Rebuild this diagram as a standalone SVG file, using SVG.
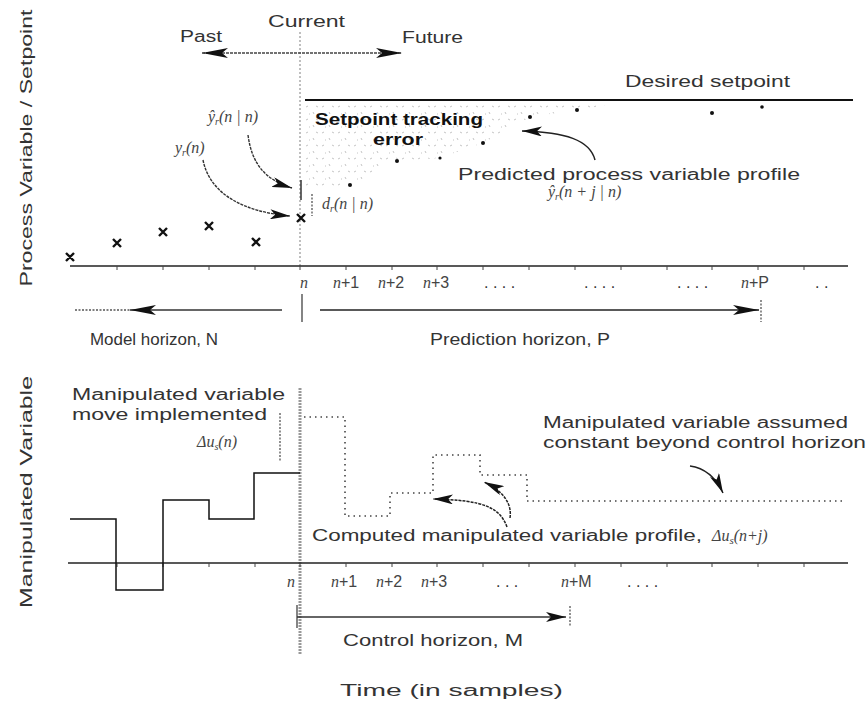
<svg xmlns="http://www.w3.org/2000/svg" width="868" height="702" viewBox="0 0 868 702">
<style>
.t{font-family:"Liberation Sans",Arial,sans-serif;fill:#333;font-size:16px}
.d{fill:#111}
.m{font-family:"Liberation Serif","Times New Roman",serif;font-style:italic;fill:#444;font-size:16px}
.ax{stroke:#222;stroke-width:1.6;fill:none}
.tk{stroke:#444;stroke-width:1}
.cur{stroke:#111;stroke-width:1.5;fill:none}
.vg{stroke:#aaa;stroke-width:1.5;stroke-dasharray:2 2;fill:none}
.dash{stroke:#555;stroke-width:1.3;stroke-dasharray:2 1.5;fill:none}
.dots{stroke:#444;stroke-width:1.6;stroke-dasharray:1.5 4;fill:none}
.xm{stroke:#111;stroke-width:2.4;fill:none}
</style>
<defs>
<marker id="ah" viewBox="0 0 26 10" refX="26" refY="5" markerWidth="26" markerHeight="10" orient="auto-start-reverse" markerUnits="userSpaceOnUse"><path d="M0,0 L26,5 L0,10 L6,5 Z" fill="#111"/></marker>
<marker id="ahs" viewBox="0 0 20 10" refX="20" refY="5" markerWidth="20" markerHeight="10" orient="auto-start-reverse" markerUnits="userSpaceOnUse"><path d="M0,0 L20,5 L0,10 L5,5 Z" fill="#111"/></marker>
<pattern id="noise" width="16" height="13" patternUnits="userSpaceOnUse"><path d="M2,3 l2,-1 M9,8 l1,2 M12,2 l2,1 M5,10 l1,0" stroke="#c4c4c4" stroke-width="1"/></pattern>
</defs>

<!-- axis labels -->
<g id="ylabel-top"><text class="t" transform="translate(32,148) rotate(-90)" text-anchor="middle" font-size="24" textLength="277" lengthAdjust="spacingAndGlyphs">Process Variable / Setpoint</text></g>
<g id="ylabel-bottom"><text class="t" transform="translate(32,492) rotate(-90)" text-anchor="middle" font-size="24" textLength="232" lengthAdjust="spacingAndGlyphs">Manipulated Variable</text></g>
<g id="xlabel"><text class="t" x="340" y="696" font-size="19" textLength="223" lengthAdjust="spacingAndGlyphs">Time (in samples)</text></g>

<!-- top panel -->
<g id="top-axis">
<line class="vg" x1="300" y1="32" x2="300" y2="266"/>
<line class="ax" x1="70" y1="266" x2="848" y2="266"/>
<path class="tk" d="M117,266v4M163,266v4M209,266v4M255,266v4M300,266v4M346,266v4M392,266v4M437,266v4M483,266v4M529,266v4M575,266v4M621,266v4M667,266v4M712,266v4M758,266v4M804,266v4"/>
<g class="m" font-size="15">
<text x="300" y="288">n</text>
<text x="333" y="288">n<tspan font-style="normal" font-family="Liberation Sans, Arial, sans-serif">+1</tspan></text>
<text x="378" y="288">n<tspan font-style="normal" font-family="Liberation Sans, Arial, sans-serif">+2</tspan></text>
<text x="423" y="288">n<tspan font-style="normal" font-family="Liberation Sans, Arial, sans-serif">+3</tspan></text>
<text x="741" y="288">n<tspan font-style="normal" font-family="Liberation Sans, Arial, sans-serif">+P</tspan></text>
</g>
<g class="t" font-size="15"><text x="484" y="288">. . . .</text><text x="584" y="288">. . . .</text><text x="677" y="288">. . . .</text><text x="815" y="288">. .</text></g>
</g>

<g id="time-labels">
<text class="t" x="268" y="27" font-size="17" textLength="77" lengthAdjust="spacingAndGlyphs">Current</text>
<text class="t" x="180" y="42" font-size="16" textLength="42" lengthAdjust="spacingAndGlyphs">Past</text>
<text class="t" x="402" y="43" font-size="16" textLength="61" lengthAdjust="spacingAndGlyphs">Future</text>
</g>

<g id="setpoint">
<path d="M305,103 L620,103 L577,110 L530,117 L483,143 L440,158 L397,161 L350,185 L305,190 Z" fill="url(#noise)"/>
<line x1="305" y1="100" x2="853" y2="100" stroke="#111" stroke-width="2"/>
<text class="t" x="625" y="87" font-size="18" textLength="165" lengthAdjust="spacingAndGlyphs">Desired setpoint</text>
<text class="t d" x="315" y="125" font-size="18" font-weight="bold" textLength="168" lengthAdjust="spacingAndGlyphs">Setpoint tracking</text>
<text class="t d" x="373" y="145" font-size="18" font-weight="bold" textLength="50" lengthAdjust="spacingAndGlyphs">error</text>
</g>

<g id="measurements">
<path class="xm" d="M66,253l8,8M74,253l-8,8 M113,239l8,8M121,239l-8,8 M159,228l8,8M167,228l-8,8 M205,222l8,8M213,222l-8,8 M252,238l8,8M260,238l-8,8 M297,214l8,8M305,214l-8,8"/>
<text class="m" x="175" y="153" font-size="15">y<tspan font-size="10" dy="3">r</tspan><tspan dy="-3">(n)</tspan></text>
<text class="m" x="208" y="122" font-size="15">ŷ<tspan font-size="10" dy="3">r</tspan><tspan dy="-3">(n | n)</tspan></text>
</g>

<g id="disturbance">
<line x1="301" y1="180" x2="301" y2="200" stroke="#333" stroke-width="1.5"/>
<line class="dash" x1="312" y1="194" x2="312" y2="216"/>
<text class="m" x="322" y="209" font-size="15">d<tspan font-size="10" dy="3">r</tspan><tspan dy="-3">(n | n)</tspan></text>
</g>

<g id="predicted">
<g fill="#111"><circle cx="350" cy="185" r="2"/><circle cx="397" cy="161" r="2"/><circle cx="440" cy="158" r="1.6"/><circle cx="483" cy="143" r="2"/><circle cx="530" cy="117" r="2"/><circle cx="577" cy="110" r="2"/><circle cx="712" cy="113" r="2"/><circle cx="762" cy="107" r="1.8"/></g>
<text class="t" x="458" y="180" font-size="17" textLength="342" lengthAdjust="spacingAndGlyphs">Predicted process variable profile</text>
<text class="m" x="548" y="197" font-size="15">ŷ<tspan font-size="10" dy="3">r</tspan><tspan dy="-3">(n + j | n)</tspan></text>
</g>

<g id="horizons-top">
<line class="dash" x1="75" y1="310" x2="130" y2="310" stroke-dasharray="1.5 5"/>
<line x1="130" y1="310" x2="282" y2="310" stroke="#333" stroke-width="1.5" marker-start="url(#ah)"/>
<line x1="302" y1="294" x2="302" y2="322" stroke="#333" stroke-width="1.2"/>
<line x1="320" y1="310" x2="759" y2="310" stroke="#222" stroke-width="1.6" marker-end="url(#ah)"/>
<line x1="761" y1="300" x2="761" y2="322" class="dash"/>
<text class="t" x="90" y="345" font-size="16" textLength="128" lengthAdjust="spacingAndGlyphs">Model horizon, N</text>
<text class="t" x="430" y="345" font-size="16" textLength="180" lengthAdjust="spacingAndGlyphs">Prediction horizon, P</text>
</g>

<!-- bottom panel -->
<g id="bottom-axis">
<line x1="300" y1="388" x2="300" y2="655" stroke="#999" stroke-width="3" stroke-dasharray="2 1"/>
<line class="ax" x1="68" y1="563" x2="848" y2="563"/>
<path class="tk" d="M117,563v4M163,563v4M209,563v4M255,563v4M300,563v4M346,563v4M392,563v4M437,563v4M483,563v4M529,563v4M575,563v4M621,563v4M667,563v4M712,563v4M758,563v4M804,563v4"/>
<g class="m" font-size="15">
<text x="287" y="587">n</text>
<text x="331" y="587">n<tspan font-style="normal" font-family="Liberation Sans, Arial, sans-serif">+1</tspan></text>
<text x="376" y="587">n<tspan font-style="normal" font-family="Liberation Sans, Arial, sans-serif">+2</tspan></text>
<text x="421" y="587">n<tspan font-style="normal" font-family="Liberation Sans, Arial, sans-serif">+3</tspan></text>
<text x="561" y="587">n<tspan font-style="normal" font-family="Liberation Sans, Arial, sans-serif">+M</tspan></text>
</g>
<g class="t" font-size="15"><text x="496" y="587">. . .</text><text x="627" y="587">. . . .</text></g>
</g>

<g id="past-moves">
<path class="cur" d="M70,519 H116 V590 H163 V500 H209 V519 H254 V473 H300"/>
<line class="dash" x1="280" y1="413" x2="280" y2="462"/>
<text class="t" x="72" y="400" font-size="17" textLength="213" lengthAdjust="spacingAndGlyphs">Manipulated variable</text>
<text class="t" x="72" y="420" font-size="17" textLength="195" lengthAdjust="spacingAndGlyphs">move implemented</text>
<text class="m" x="197" y="447" font-size="15">Δu<tspan font-size="10" dy="3">s</tspan><tspan dy="-3">(n)</tspan></text>
</g>

<g id="future-moves">
<path class="dots" d="M304,417 H345 V516 H390 V493 H433 V455 H480 V475 H527 V501 H843"/>
<text class="t" x="543" y="428" font-size="17" textLength="305" lengthAdjust="spacingAndGlyphs">Manipulated variable assumed</text>
<text class="t" x="543" y="448" font-size="17" textLength="323" lengthAdjust="spacingAndGlyphs">constant beyond control horizon</text>
<text class="t" x="312" y="541" font-size="17" textLength="390" lengthAdjust="spacingAndGlyphs">Computed manipulated variable profile,</text>
<text class="m" x="712" y="541" font-size="17">Δu<tspan font-size="11" dy="3">s</tspan><tspan dy="-3">(n+j)</tspan></text>
</g>

<g id="control-horizon">
<line x1="297" y1="605" x2="297" y2="628" stroke="#333" stroke-width="1.2"/>
<line x1="297" y1="617" x2="566" y2="617" stroke="#333" stroke-width="1.4" marker-end="url(#ahs)"/>
<line class="dash" x1="570" y1="606" x2="570" y2="626"/>
<text class="t" x="343" y="646" font-size="16" textLength="180" lengthAdjust="spacingAndGlyphs">Control horizon, M</text>
</g>

<g id="connectors">
<line x1="202" y1="53" x2="402" y2="53" stroke="#444" stroke-width="1.6" stroke-dasharray="3 1" marker-start="url(#ah)" marker-end="url(#ah)"/>
<path d="M248,135 C252,165 266,180 292,188" stroke="#333" stroke-width="1.4" fill="none" stroke-dasharray="3 1" marker-end="url(#ahs)"/>
<path d="M203,160 C210,195 245,212 290,216" stroke="#333" stroke-width="1.4" fill="none" stroke-dasharray="3 1" marker-end="url(#ahs)"/>
<path d="M595,160 C590,140 565,132 522,131" stroke="#222" stroke-width="1.5" fill="none" marker-end="url(#ahs)"/>
<path d="M507,527 C500,508 485,500 433,499" stroke="#222" stroke-width="1.5" fill="none" stroke-dasharray="3 1" marker-end="url(#ahs)"/>
<path d="M510,518 C512,505 505,492 484,482" stroke="#222" stroke-width="1.5" fill="none" stroke-dasharray="3 1" marker-end="url(#ahs)"/>
<path d="M690,466 C705,468 716,478 723,493" stroke="#222" stroke-width="1.5" fill="none" marker-end="url(#ahs)"/>
</g>
</svg>
